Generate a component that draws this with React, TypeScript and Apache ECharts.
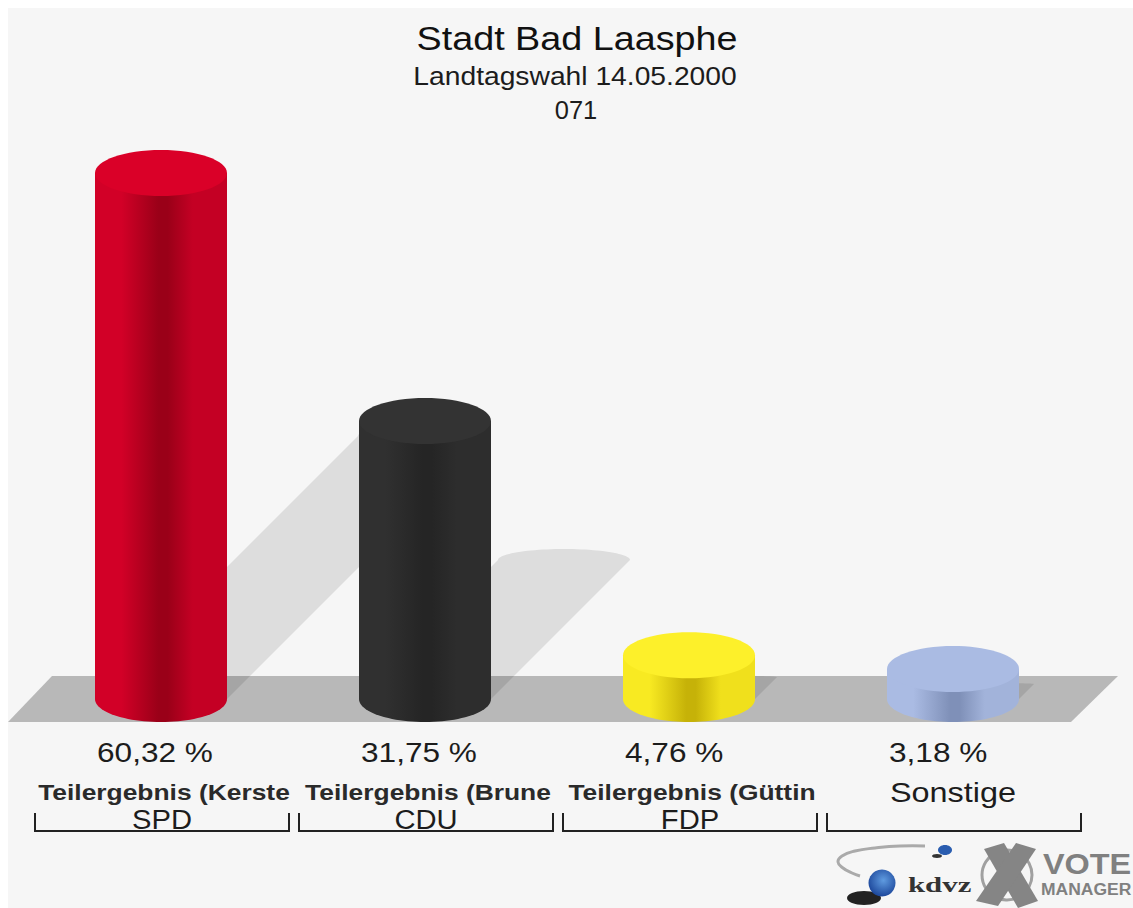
import React, { useEffect, useRef } from "react";
import * as echarts from "echarts";

const parties = ["SPD", "CDU", "FDP", "Sonstige"];
const names = ["Teilergebnis (Kerste", "Teilergebnis (Brune", "Teilergebnis (Güttin", "Sonstige"];
const values = [60.32, 31.75, 4.76, 3.18];
const valueLabels = ["60,32 %", "31,75 %", "4,76 %", "3,18 %"];
const palettes = [
  { top: "#da0028", edge: "#d20027", mid: "#9a0018", side: "#c40024" },
  { top: "#333333", edge: "#303030", mid: "#252525", side: "#2d2d2d" },
  { top: "#fdf02a", edge: "#f8ea22", mid: "#c6b208", side: "#f0e01c" },
  { top: "#aabbe3", edge: "#aabbe3", mid: "#7f90b8", side: "#a2b3da" },
];

const RX = 66;
const RY = 23;
const BASE_OFFSET = 2.4;
const FONT = '"Liberation Sans", Arial, sans-serif';
const TEXT = "#1c1c1c";

function arc(cx: number, cy: number, rx: number, ry: number, from: number, to: number) {
  const pts: number[][] = [];
  const n = 48;
  for (let k = 0; k <= n; k++) {
    const a = from + ((to - from) * k) / n;
    pts.push([cx + rx * Math.cos(a), cy + ry * Math.sin(a)]);
  }
  return pts;
}

function label(x: number, y: number, text: string, font: string, scaleX: number, align: string, fill = TEXT) {
  return {
    type: "text",
    x,
    y,
    scaleX,
    z2: 10,
    style: { x: 0, y: 0, text, font, fill, align, verticalAlign: "middle" },
  };
}

function renderShadow(params: any, api: any) {
  const i = api.value(0);
  const top = api.coord([i, api.value(1)]);
  const base = api.coord([i, 0]);
  const y0 = base[1] + BASE_OFFSET;
  const h = y0 - top[1];
  const d = h / 2;
  const cx = base[0];
  const pts = [
    [cx - RX, y0],
    ...arc(cx + d, y0 - d, RX, Math.min(11, h * 0.04), Math.PI, 2 * Math.PI),
    [cx + RX, y0],
  ];
  return {
    type: "polygon",
    shape: { points: pts },
    style: { fill: "rgba(0,0,0,0.1)" },
  };
}

function renderCylinder(params: any, api: any) {
  const i = api.value(0);
  const top = api.coord([i, api.value(1)]);
  const base = api.coord([i, 0]);
  const y0 = base[1] + BASE_OFFSET;
  const cx = base[0];
  const p = palettes[i];
  const fill = new echarts.graphic.LinearGradient(0, 0, 1, 0, [
    { offset: 0, color: p.edge },
    { offset: 0.2, color: p.edge },
    { offset: 0.48, color: p.mid },
    { offset: 0.55, color: p.mid },
    { offset: 0.74, color: p.side },
    { offset: 1, color: p.side },
  ]);
  const body = [[cx - RX, top[1]], [cx + RX, top[1]], ...arc(cx, y0, RX, RY, 0, Math.PI)];
  const children: any[] = [
    { type: "polygon", shape: { points: body }, style: { fill } },
    { type: "ellipse", shape: { cx, cy: top[1], rx: RX, ry: RY }, style: { fill: p.top } },
    label(cx - RX + 2, 752, valueLabels[i], `27px ${FONT}`, 1.17, "left"),
    i === 3
      ? label(cx, 792, names[i], `27px ${FONT}`, 1.2, "center")
      : label(cx + 3, 792, names[i], `bold 22px ${FONT}`, 1.2, "center", "#2a2a2a"),
    {
      type: "polyline",
      shape: {
        points: [
          [cx - 126, 813],
          [cx - 126, 831],
          [cx + 128, 831],
          [cx + 128, 813],
        ],
      },
      style: { stroke: "#222222", lineWidth: 2, fill: "none" },
    },
  ];
  if (i !== 3) children.push(label(cx + 1, 820, parties[i], `27px ${FONT}`, 1.08, "center"));
  return { type: "group", children };
}

function titleText(x: number, y: number, text: string, size: number, scaleX: number, fill = TEXT) {
  return {
    type: "text",
    z: 5,
    x,
    y,
    scaleX,
    style: { x: 0, y: 0, text, font: `${size}px ${FONT}`, fill, align: "center", verticalAlign: "middle" },
  };
}

export default function App() {
  const ref = useRef<HTMLDivElement>(null);
  useEffect(() => {
    const chart = echarts.init(ref.current!, null, { renderer: "svg" });
    const data = values.map((v, i) => [i, v]);
    chart.setOption({
      animation: false,
      backgroundColor: "transparent",
      grid: { left: 29, width: 1056, top: 89, height: 607.6 },
      xAxis: { type: "category", data: parties, show: false },
      yAxis: { type: "value", min: 0, max: 70, show: false },
      graphic: [
        {
          type: "polygon",
          z: 0,
          shape: { points: [[8, 722], [52, 676], [1118, 676], [1071, 722]] },
          style: { fill: "#b8b8b8" },
        },
        titleText(577, 38, "Stadt Bad Laasphe", 34, 1.11, "#111111"),
        titleText(575, 77, "Landtagswahl 14.05.2000", 25, 1.13),
        titleText(576, 110, "071", 25, 1.02),
        // logo
        {
          type: "polyline",
          z: 5,
          shape: {
            points: [[925, 846], [900, 846], [875, 848], [855, 851], [842, 856], [838, 862], [843, 868], [852, 873], [860, 876]],
            smooth: 0.5,
          },
          style: { stroke: "#aaaaaa", lineWidth: 3, fill: "none" },
        },
        { type: "ellipse", z: 5, shape: { cx: 864, cy: 898, rx: 17, ry: 7 }, style: { fill: "#222222" } },
        { type: "circle", z: 5, shape: { cx: 882, cy: 883, r: 13.5 }, style: { fill: new echarts.graphic.RadialGradient(0.55, 0.4, 0.7, [{ offset: 0, color: "#5f9be0" }, { offset: 1, color: "#123a90" }]) } },
        { type: "ellipse", z: 5, shape: { cx: 937, cy: 856, rx: 5, ry: 2 }, style: { fill: "#333333" } },
        { type: "ellipse", z: 5, shape: { cx: 945, cy: 850, rx: 7, ry: 5 }, style: { fill: "#2a5db0" } },
        {
          type: "text", z: 5, x: 908, y: 885, scaleX: 1.4,
          style: { x: 0, y: 0, text: "kdvz", font: `bold 22px "Liberation Serif", serif`, fill: "#333333", align: "left", verticalAlign: "middle" },
        },
        { type: "circle", z: 5, shape: { cx: 1007, cy: 875, r: 25 }, style: { stroke: "#a0a0a0", lineWidth: 3, fill: "none" } },
        { type: "polygon", z: 5, shape: { points: [[984, 849], [1004, 843], [1038, 901], [1018, 908]] }, style: { fill: "#858585" } },
        { type: "polygon", z: 5, shape: { points: [[1016, 843], [1036, 849], [998, 906], [976, 901]] }, style: { fill: "#858585" } },
        {
          type: "text", z: 5, x: 1043, y: 864, scaleX: 1.08,
          style: { x: 0, y: 0, text: "VOTE", font: `bold 30px ${FONT}`, fill: "#808080", align: "left", verticalAlign: "middle" },
        },
        {
          type: "text", z: 5, x: 1041, y: 889, scaleX: 1.03,
          style: { x: 0, y: 0, text: "MANAGER", font: `bold 17px ${FONT}`, fill: "#808080", align: "left", verticalAlign: "middle" },
        },
      ],
      series: [
        { type: "custom", z: 2, clip: false, renderItem: renderShadow, data, silent: true },
        { type: "custom", z: 3, clip: false, renderItem: renderCylinder, data, silent: true },
      ],
    });
    return () => chart.dispose();
  }, []);
  return (
    <>
      <div style={{ position: "fixed", left: 0, top: 0, width: 1133, height: 908, background: "#ffffff" }} />
      <div style={{ position: "fixed", left: 8, top: 8, width: 1125, height: 900, background: "#f6f6f6" }} />
      <div ref={ref} style={{ position: "fixed", left: 0, top: 0, width: 1133, height: 908 }} />
    </>
  );
}
